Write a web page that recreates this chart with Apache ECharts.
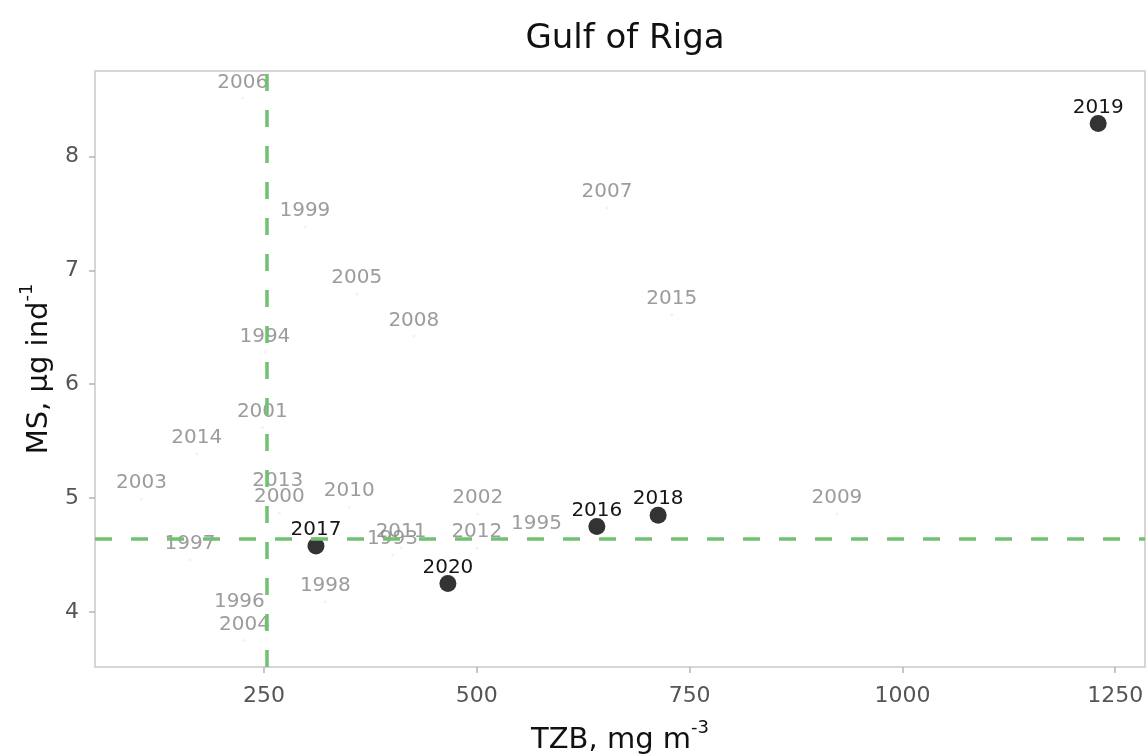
<!DOCTYPE html>
<html>
<head>
<meta charset="utf-8">
<script src="https://cdn.jsdelivr.net/npm/echarts@6/dist/echarts.min.js"></script>
<style>html,body{margin:0;padding:0;background:#fff}#c{width:1148px;height:756px}</style>
</head>
<body>
<div id="c"></div>
<script>
// ---- data ----
var grayYears = [1993,1994,1995,1996,1997,1998,1999,2000,2001,2002,2003,2004,2005,2006,2007,2008,2009,2010,2011,2012,2013,2014,2015];
var grayTZB   = [401, 251, 570, 221, 163, 322, 298, 268, 248, 501, 106, 227, 359, 225, 653, 426, 923, 350, 411, 500, 266, 171, 729];
var grayMS    = [4.50,6.28,4.63,3.95,4.46,4.09,7.38,4.87,5.62,4.86,4.99,3.75,6.79,8.51,7.55,6.42,4.86,4.92,4.56,4.56,5.01,5.39,6.61];
var recentYears = [2016, 2017, 2018, 2019, 2020];
var recentTZB   = [641, 311, 713, 1230, 466];
var recentMS    = [4.75, 4.58, 4.85, 8.29, 4.25];
var xTicks = [250, 500, 750, 1000, 1250];
var yTicks = [4, 5, 6, 7, 8];
var refTZB = 253;
var refMS = 4.64;

var FONT = 'DejaVu Sans';
function pts(xs, ys, yrs){ return xs.map(function(x,i){ return [x, ys[i], yrs[i]]; }); }

var chart = echarts.init(document.getElementById('c'), null, {renderer:'canvas'});
chart.setOption({
  animation: false,
  backgroundColor: '#fff',
  title: {
    text: 'Gulf of Riga', left: 620, top: 17, textAlign: 'center',
    textStyle: {fontFamily: FONT, fontSize: 34, fontWeight: 'normal', color: '#111'}
  },
  grid: {left: 95, right: 3, top: 71, bottom: 89, show: true, borderColor: '#c9c9c9', borderWidth: 1.5,
    backgroundColor: 'transparent', outerBoundsMode: 'none', containLabel: false},
  xAxis: {
    type: 'value', min: 51.4, max: 1285,
    name: '{a|TZB, mg m}{s|-3}', nameLocation: 'middle', nameGap: 48,
    nameTextStyle: {fontFamily: FONT, color: '#111', rich: {
      a: {fontFamily: FONT, fontSize: 29, lineHeight: 29, padding: [14,0,0,0], color: '#111'},
      s: {fontFamily: FONT, fontSize: 18, lineHeight: 18, verticalAlign: 'top', color: '#111'}
    }},
    axisLine: {show: false},
    axisTick: {show: true, length: 6, customValues: xTicks, lineStyle: {color: '#b5b5b5', width: 1.5}},
    axisLabel: {customValues: xTicks, margin: 18, fontFamily: FONT, fontSize: 22, color: '#555',
      formatter: function(v){ return String(v); }},
    splitLine: {show: false}
  },
  yAxis: {
    type: 'value', min: 3.517, max: 8.75,
    name: '{a|MS, µg ind}{s|-1}', nameLocation: 'middle', nameGap: 33,
    nameTextStyle: {fontFamily: FONT, color: '#111', rich: {
      a: {fontFamily: FONT, fontSize: 29, lineHeight: 29, padding: [14,0,0,0], color: '#111'},
      s: {fontFamily: FONT, fontSize: 18, lineHeight: 18, verticalAlign: 'top', color: '#111'}
    }},
    axisLine: {show: false},
    axisTick: {show: true, length: 6, customValues: yTicks, lineStyle: {color: '#b5b5b5', width: 1.5}},
    axisLabel: {customValues: yTicks, margin: 16, fontFamily: FONT, fontSize: 22, color: '#555',
      formatter: function(v){ return String(v); }},
    splitLine: {show: false}
  },
  series: [
    {
      type: 'scatter', data: [], z: 1, silent: true,
      markLine: {
        silent: true, symbol: 'none', animation: false,
        label: {show: false},
        lineStyle: {color: '#72c072', width: 3.5, type: [17, 19], opacity: 1},
        data: [{xAxis: refTZB}, {yAxis: refMS}]
      }
    },
    {
      type: 'scatter', z: 3, data: pts(grayTZB, grayMS, grayYears),
      symbolSize: 3, itemStyle: {color: 'rgba(120,120,120,0.12)'},
      label: {show: true, position: 'inside', offset: [0, -16], formatter: function(p){return p.data[2];},
        fontFamily: FONT, fontSize: 20, color: '#838383'}
    },
    {
      type: 'scatter', z: 4, data: pts(recentTZB, recentMS, recentYears),
      symbolSize: 17, itemStyle: {color: '#333333', opacity: 1},
      label: {show: true, position: 'inside', offset: [0, -16], formatter: function(p){return p.data[2];},
        fontFamily: FONT, fontSize: 20, color: '#151515'}
    }
  ]
});
</script>
</body>
</html>
